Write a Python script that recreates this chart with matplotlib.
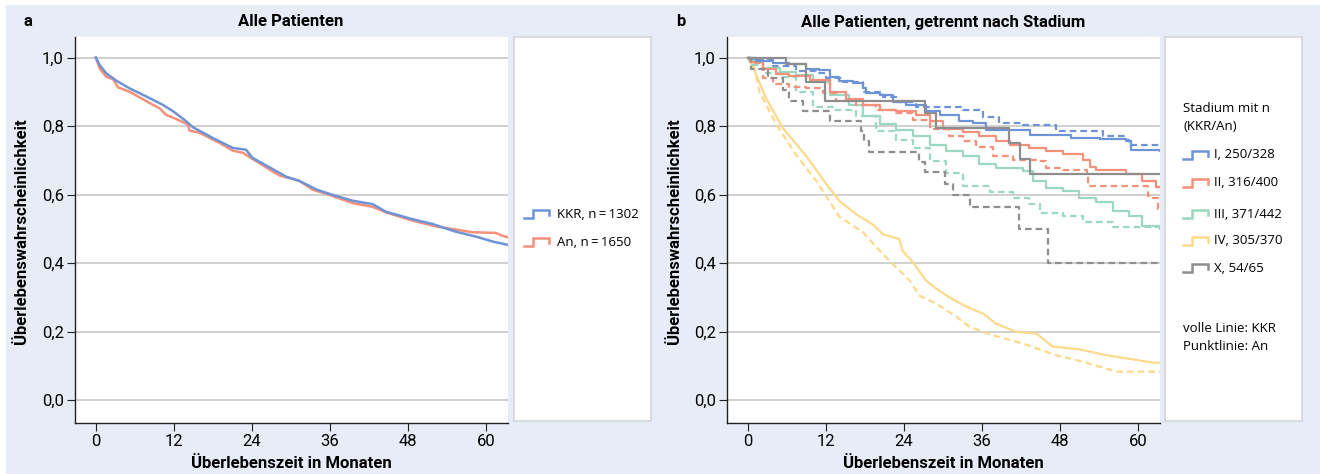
import numpy as np
import matplotlib.pyplot as plt
from matplotlib.patches import Rectangle

# ---- data ----
# panel a: all patients
kkr_t = [0, 0.6, 1.6, 3.2, 5.2, 7.8, 10.3, 11.9, 13.9, 14.9, 18.0, 21.1, 23.1, 24.1, 26.2,
         29.3, 31.3, 33.9, 36.4, 39.5, 42.6, 44.6, 48.7, 51.8, 55.3, 58.9, 61.0, 63.4]
kkr_s = [1.0, 0.978, 0.954, 0.932, 0.910, 0.886, 0.862, 0.843, 0.814, 0.797, 0.765, 0.736, 0.731, 0.707, 0.685,
         0.652, 0.640, 0.615, 0.599, 0.582, 0.572, 0.550, 0.528, 0.514, 0.492, 0.475, 0.463, 0.453]
an_t = [0, 0.6, 1.6, 2.7, 3.4, 5.2, 8.3, 9.8, 10.8, 12.9, 14.2, 14.4, 16.0, 19.0, 21.1, 22.6,
        25.2, 28.2, 31.3, 33.4, 36.4, 39.5, 42.6, 44.6, 48.7, 52.3, 55.3, 57.9, 61.5, 62.5, 63.4]
an_s = [1.0, 0.968, 0.944, 0.936, 0.913, 0.900, 0.867, 0.852, 0.833, 0.816, 0.804, 0.787, 0.780, 0.751, 0.728, 0.722,
        0.691, 0.656, 0.640, 0.614, 0.596, 0.575, 0.564, 0.548, 0.524, 0.507, 0.498, 0.490, 0.488, 0.480, 0.475]

# panel b: by stage, solid = KKR, dashed = An
st1_kkr_t = [0, 1.3, 3.9, 6.4, 9.0, 11.0, 12.6, 14.1, 16.2, 17.7, 18.2, 20.3, 22.3, 24.4, 27.4, 29.5,
             32.5, 34.6, 36.7, 43.4, 49.7, 54.1, 58.2, 59.0, 63.4]
st1_kkr_s = [1.0, 0.989, 0.983, 0.980, 0.968, 0.963, 0.944, 0.931, 0.925, 0.910, 0.896, 0.891, 0.871, 0.862,
             0.843, 0.831, 0.814, 0.809, 0.789, 0.775, 0.765, 0.762, 0.756, 0.731, 0.728]
st1_an_t = [0, 0.8, 3.9, 7.4, 10.5, 12.1, 14.6, 17.7, 20.8, 22.8, 25.9, 33.1, 36.2, 38.7, 42.3, 47.4, 54.6,
            58.2, 58.7, 63.4]
st1_an_s = [1.0, 0.992, 0.976, 0.960, 0.954, 0.941, 0.929, 0.900, 0.886, 0.871, 0.855, 0.847, 0.825, 0.809,
            0.802, 0.786, 0.770, 0.760, 0.744, 0.744]
st2_kkr_t = [0, 0.3, 2.3, 4.4, 6.4, 9.5, 12.6, 15.1, 17.7, 20.3, 22.8, 25.9, 28.0, 30.0, 33.1, 35.6, 38.2,
             40.3, 43.3, 45.9, 48.5, 51.5, 52.6, 53.6, 58.2, 60.7, 62.8, 63.4]
st2_kkr_s = [1.0, 0.987, 0.968, 0.951, 0.947, 0.934, 0.900, 0.879, 0.862, 0.847, 0.843, 0.831, 0.814, 0.792,
             0.783, 0.770, 0.756, 0.744, 0.736, 0.727, 0.717, 0.702, 0.680, 0.673, 0.659, 0.640, 0.622, 0.622]
st2_an_t = [0, 0.3, 2.3, 3.9, 6.4, 9.0, 11.5, 13.6, 16.7, 19.7, 22.8, 25.4, 28.0, 31.0, 33.1, 35.1, 37.7,
            40.8, 44.4, 45.9, 48.5, 52.1, 52.3, 61.5, 61.8, 63.1, 63.4]
st2_an_s = [1.0, 0.983, 0.939, 0.922, 0.915, 0.910, 0.896, 0.873, 0.862, 0.847, 0.838, 0.818, 0.792, 0.770,
            0.756, 0.738, 0.712, 0.702, 0.698, 0.678, 0.671, 0.659, 0.625, 0.596, 0.591, 0.557, 0.557]
st3_kkr_t = [0, 0.3, 2.3, 4.9, 7.4, 10.0, 12.6, 15.6, 17.7, 20.3, 22.8, 25.4, 28.0, 30.5, 33.1, 35.6, 38.2,
             42.3, 43.8, 45.9, 48.5, 51.0, 53.6, 56.2, 58.7, 60.7, 63.4]
st3_kkr_s = [1.0, 0.992, 0.970, 0.957, 0.949, 0.928, 0.891, 0.862, 0.828, 0.806, 0.789, 0.770, 0.746, 0.728,
             0.712, 0.690, 0.678, 0.669, 0.640, 0.620, 0.609, 0.591, 0.577, 0.553, 0.538, 0.509, 0.500]
st3_an_t = [0, 0.3, 2.3, 4.9, 7.4, 10.0, 13.1, 16.7, 19.7, 22.8, 25.4, 28.0, 30.5, 33.1, 37.2, 40.8, 43.3,
            44.9, 48.5, 51.5, 56.2, 63.4]
st3_an_s = [1.0, 0.978, 0.954, 0.944, 0.900, 0.857, 0.847, 0.828, 0.785, 0.760, 0.736, 0.698, 0.664, 0.625,
            0.606, 0.591, 0.572, 0.545, 0.538, 0.519, 0.504, 0.500]
st4_kkr_t = [0, 0.3, 1.3, 2.8, 5.4, 9.0, 12.1, 14.1, 16.7, 19.2, 20.8, 23.3, 23.8, 25.4, 27.4, 29.0, 31.0,
             33.6, 36.2, 38.2, 41.3, 44.4, 46.9, 51.0, 55.1, 59.2, 62.3, 63.4]
st4_kkr_s = [1.0, 0.995, 0.949, 0.881, 0.794, 0.712, 0.630, 0.581, 0.542, 0.513, 0.484, 0.470, 0.436, 0.402,
             0.349, 0.325, 0.300, 0.273, 0.252, 0.223, 0.199, 0.194, 0.156, 0.148, 0.131, 0.119, 0.109, 0.109]
st4_an_t = [0, 0.8, 1.8, 4.4, 7.4, 10.5, 14.1, 17.7, 20.3, 22.3, 24.9, 26.4, 29.0, 32.1, 34.1, 37.7, 42.3,
            47.4, 51.5, 56.7, 63.4]
st4_an_s = [1.0, 0.987, 0.900, 0.804, 0.717, 0.640, 0.535, 0.490, 0.436, 0.397, 0.349, 0.305, 0.281, 0.243,
            0.214, 0.189, 0.165, 0.131, 0.112, 0.083, 0.083]
stx_kkr_t = [0, 5.8, 8.9, 11.9, 27.2, 29.0, 40.2, 41.8, 43.4, 63.4]
stx_kkr_s = [1.0, 0.980, 0.928, 0.874, 0.838, 0.794, 0.751, 0.705, 0.659, 0.659]
stx_an_t = [0, 0.5, 3.1, 5.4, 6.4, 8.5, 12.6, 17.4, 17.9, 18.6, 26.3, 27.2, 30.4, 31.5, 34.1, 41.7, 46.1, 63.4]
stx_an_s = [1.0, 0.968, 0.939, 0.905, 0.873, 0.845, 0.815, 0.785, 0.756, 0.725, 0.696, 0.667, 0.630, 0.599,
            0.563, 0.500, 0.399, 0.399]

stage_labels = ['I, 250/328', 'II, 316/400', 'III, 371/442', 'IV, 305/370', 'X, 54/65']
yticks = [0.0, 0.2, 0.4, 0.6, 0.8, 1.0]
xticks = [0, 12, 24, 36, 48, 60]

BLUE, RED, GREEN, YELLOW, GRAY = '#6e93d6', '#f5917b', '#9cd8bf', '#fdd98b', '#8e8e8e'
BG = '#e8ecf7'
COND = ['Roboto', 'DejaVu Sans']
REG = ['Open Sans', 'DejaVu Sans']

W, H = 1320, 474
fig = plt.figure(figsize=(W / 100, H / 100), dpi=100)
fig.patches.append(Rectangle((6 / W, 0), 1, 469 / H, transform=fig.transFigure,
                             color=BG, zorder=-10))


def px_axes(x0, y0, x1, y1):
    # axes from pixel box (top-left origin)
    return fig.add_axes([x0 / W, 1 - y1 / H, (x1 - x0) / W, (y1 - y0) / H])


def style_plot(ax):
    ax.set_facecolor('white')
    ax.set_xlim(-3.2, 63.4)
    ax.set_ylim(-0.067, 1.06)
    for s in ['top', 'right']:
        ax.spines[s].set_visible(False)
    for s in ['left', 'bottom']:
        ax.spines[s].set_linewidth(1.0)
        ax.spines[s].set_color('#222222')
    ax.set_yticks(yticks)
    ax.set_yticklabels([f'{v:.1f}'.replace('.', ',') for v in yticks])
    ax.set_xticks(xticks)
    ax.set_xticklabels([str(v) for v in xticks])
    ax.tick_params(direction='out', length=6, width=0.8, color='#222222',
                   labelsize=12, pad=2)
    for lab in ax.get_xticklabels() + ax.get_yticklabels():
        lab.set_family(COND)
    ax.yaxis.grid(True, color='#c8c8c8', linewidth=1.2)
    ax.set_axisbelow(True)


def style_legend(ax):
    ax.set_facecolor('white')
    ax.set_xticks([])
    ax.set_yticks([])
    for s in ax.spines.values():
        s.set_color('#d4d4dc')
        s.set_linewidth(1.2)
    ax.set_xlim(0, 137)
    ax.set_ylim(384, 0)


def icon(ax, x, y, color):
    xs = [x, x + 9, x + 9, x + 25, x + 25]
    ys = [y + 4, y + 4, y - 4, y - 4, y + 1]
    ax.plot(xs, ys, color=color, lw=1.8, solid_joinstyle='miter')


# ---- panel a ----
axa = px_axes(75, 37, 508, 423)
style_plot(axa)
axa.plot(an_t, an_s, color=RED, lw=1.8)
axa.plot(kkr_t, kkr_s, color=BLUE, lw=1.8)

lega = px_axes(514, 37, 651, 421)
style_legend(lega)
for yy, col, txt in [(214 - 37, BLUE, 'KKR, n\u2009=\u20091302'), (242 - 37, RED, 'An, n\u2009=\u20091650')]:
    icon(lega, 10, yy, col)
    lega.text(43, yy, txt, va='center', ha='left', fontsize=9.5, family=REG)

# ---- panel b ----
axb = px_axes(727, 37, 1160, 423)
style_plot(axb)
curves = [
    (st4_kkr_t, st4_kkr_s, st4_an_t, st4_an_s, YELLOW, 'default'),
    (st3_kkr_t, st3_kkr_s, st3_an_t, st3_an_s, GREEN, 'steps-post'),
    (st2_kkr_t, st2_kkr_s, st2_an_t, st2_an_s, RED, 'steps-post'),
    (st1_kkr_t, st1_kkr_s, st1_an_t, st1_an_s, BLUE, 'steps-post'),
    (stx_kkr_t, stx_kkr_s, stx_an_t, stx_an_s, GRAY, 'steps-post'),
]
for kt, ks, at, as_, col, ds in curves:
    axb.plot(at, as_, color=col, lw=1.6, ls=(0, (3, 1.8)), drawstyle=ds)
    axb.plot(kt, ks, color=col, lw=1.6, drawstyle=ds)

legb = px_axes(1165, 37, 1302, 421)
style_legend(legb)
legb.text(18, 109 - 37, 'Stadium mit n', va='center', ha='left', fontsize=9.5, family=REG)
legb.text(18, 127 - 37, '(KKR/An)', va='center', ha='left', fontsize=9.5, family=REG)
for yy, col, txt in zip([155, 183, 214, 241, 268], [BLUE, RED, GREEN, YELLOW, GRAY], stage_labels):
    icon(legb, 18, yy - 37, col)
    legb.text(49, yy - 37, txt, va='center', ha='left', fontsize=9.5, family=REG)
legb.text(18, 328 - 37, 'volle Linie: KKR', va='center', ha='left', fontsize=9.5, family=REG)
legb.text(18, 346 - 37, 'Punktlinie: An', va='center', ha='left', fontsize=9.5, family=REG)

# ---- titles and axis labels ----
for x_letter, letter, x_mid, title in [(23, 'a', 291, 'Alle Patienten'),
                                       (676, 'b', 943, 'Alle Patienten, getrennt nach Stadium')]:
    fig.text(x_letter / W, 1 - 22 / H, letter, ha='left', va='center',
             fontsize=12, fontweight='bold', family=COND)
    fig.text(x_mid / W, 1 - 22 / H, title, ha='center', va='center',
             fontsize=12, fontweight='bold', family=COND)
    fig.text(x_mid / W, 1 - 463 / H, 'Überlebenszeit in Monaten', ha='center', va='center',
             fontsize=12, fontweight='bold', family=COND)
for x_lab in [22, 675]:
    fig.text(x_lab / W, 1 - 231 / H, 'Überlebenswahrscheinlichkeit', ha='center', va='center',
             rotation=90, fontsize=12, fontweight='bold', family=COND)

fig.savefig('out.png', dpi=100)
